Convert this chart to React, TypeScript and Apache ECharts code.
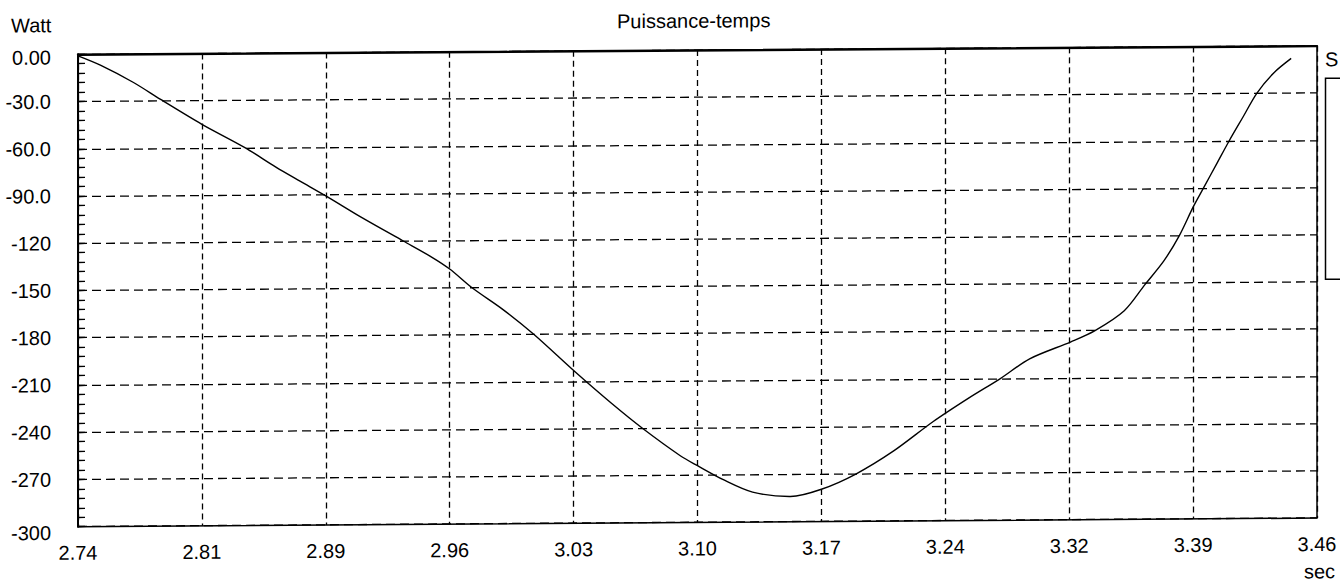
import React, { useEffect, useRef } from "react";
import * as echarts from "echarts";

// Time (s) and power (W)
const T0 = 2.74;
const times = [
  2.74, 2.753, 2.772, 2.788, 2.812, 2.837, 2.855, 2.869, 2.884, 2.905, 2.929, 2.945,
  2.956, 2.969, 2.987, 3.005, 3.029, 3.05, 3.068, 3.09, 3.1, 3.115, 3.132, 3.154,
  3.172, 3.192, 3.214, 3.237, 3.258, 3.276, 3.293, 3.317, 3.331, 3.348, 3.36, 3.371,
  3.38, 3.388, 3.394, 3.402, 3.409, 3.417, 3.425, 3.435, 3.445,
];
const power = [
  -1, -7, -18, -29, -45, -60, -72.5, -81.5, -91, -105, -120, -130,
  -138, -150, -164, -180, -204, -224, -240, -257.6, -264, -273, -281, -284,
  -279.5, -270, -255.5, -237, -222, -210, -197.6, -187, -180, -167.5, -151, -136,
  -120, -102, -90, -74, -60, -45, -30, -17, -8,
];
const xTickLabels = ["2.74", "2.81", "2.89", "2.96", "3.03", "3.10", "3.17", "3.24", "3.32", "3.39", "3.46"];
const yTickLabels = ["0.00", "-30.0", "-60.0", "-90.0", "-120", "-150", "-180", "-210", "-240", "-270", "-300"];
const X_STEP = 0.072;
const Y_STEP = 30;

const FONT = "'Liberation Sans', Arial, sans-serif";

export default function App() {
  const ref = useRef<HTMLDivElement>(null);
  useEffect(() => {
    if (!ref.current) return;
    const chart = echarts.init(ref.current, null, { renderer: "svg" });
    const data = times.map((t, i) => [t - T0, power[i]]);
    chart.setOption({
      animation: false,
      backgroundColor: "#fff",
      textStyle: { fontFamily: FONT, color: "#000" },
      grid: {
        left: 78,
        top: 54.3,
        width: 1239,
        height: 472.4,
        show: true,
        borderColor: "#000",
        borderWidth: 1.5,
        backgroundColor: "transparent",
      },
      xAxis: {
        type: "value",
        min: 0,
        max: X_STEP * 10,
        interval: X_STEP,
        axisLine: { show: true, lineStyle: { color: "#000", width: 2 } },
        axisTick: { show: false },
        axisLabel: {
          margin: 16,
          fontSize: 20,
          fontFamily: FONT,
          color: "#000",
          showMinLabel: true,
          showMaxLabel: true,
          formatter: (v: number) => xTickLabels[Math.round(v / X_STEP)] ?? "",
        },
        splitLine: { show: true, lineStyle: { color: "#000", type: [6, 4], width: 1.3 } },
      },
      yAxis: {
        type: "value",
        min: -300,
        max: 0,
        interval: Y_STEP,
        axisLine: { show: true, lineStyle: { color: "#000", width: 2 } },
        axisTick: { show: true, inside: true, length: 7, lineStyle: { color: "#000", width: 1.3 } },
        minorTick: { show: true, splitNumber: 5, length: 7, lineStyle: { color: "#000", width: 1.3 } },
        axisLabel: {
          margin: 27,
          fontSize: 20,
          fontFamily: FONT,
          color: "#000",
          showMinLabel: true,
          showMaxLabel: true,
          formatter: (v: number) => {
            const idx = Math.round(-v / Y_STEP);
            const s = yTickLabels[idx] ?? "";
            if (idx === 0) return "{top|" + s + "}";
            if (idx === 10) return "{bot|" + s + "}";
            return s;
          },
          rich: {
            top: { fontSize: 20, fontFamily: FONT, color: "#000", padding: [6, 0, 0, 0] },
            bot: { fontSize: 20, fontFamily: FONT, color: "#000", padding: [12, 0, 0, 0] },
          },
        },
        splitLine: { show: true, lineStyle: { color: "#000", type: [9, 5], width: 1.3 } },
      },
      series: [
        {
          type: "line",
          data,
          smooth: 0.3,
          symbol: "none",
          lineStyle: { color: "#000", width: 1.4 },
        },
      ],
      graphic: [
        {
          type: "text",
          left: 617,
          top: 15,
          style: { text: "Puissance-temps", fontSize: 20, fontFamily: FONT, fill: "#000" },
        },
        {
          type: "text",
          left: 11,
          top: 15,
          style: { text: "Watt", fontSize: 20, fontFamily: FONT, fill: "#000" },
        },
        {
          type: "text",
          left: 1304,
          top: 570,
          style: { text: "sec", fontSize: 20, fontFamily: FONT, fill: "#000" },
        },
        {
          type: "text",
          left: 1325,
          top: 58,
          style: { text: "S", fontSize: 20, fontFamily: FONT, fill: "#000" },
        },
        {
          type: "rect",
          shape: { x: 1325.5, y: 87, width: 40, height: 201 },
          style: { fill: "none", stroke: "#000", lineWidth: 1.5 },
        },
      ],
    });
    return () => chart.dispose();
  }, []);
  return (
    <div
      style={{
        position: "fixed",
        left: 0,
        top: 0,
        width: 1340,
        height: 583,
        overflow: "hidden",
        background: "#fff",
      }}
    >
      <div
        ref={ref}
        style={{
          width: 1340,
          height: 600,
          transform: "skewY(-0.4deg)",
          transformOrigin: "78px 0px",
        }}
      />
    </div>
  );
}
